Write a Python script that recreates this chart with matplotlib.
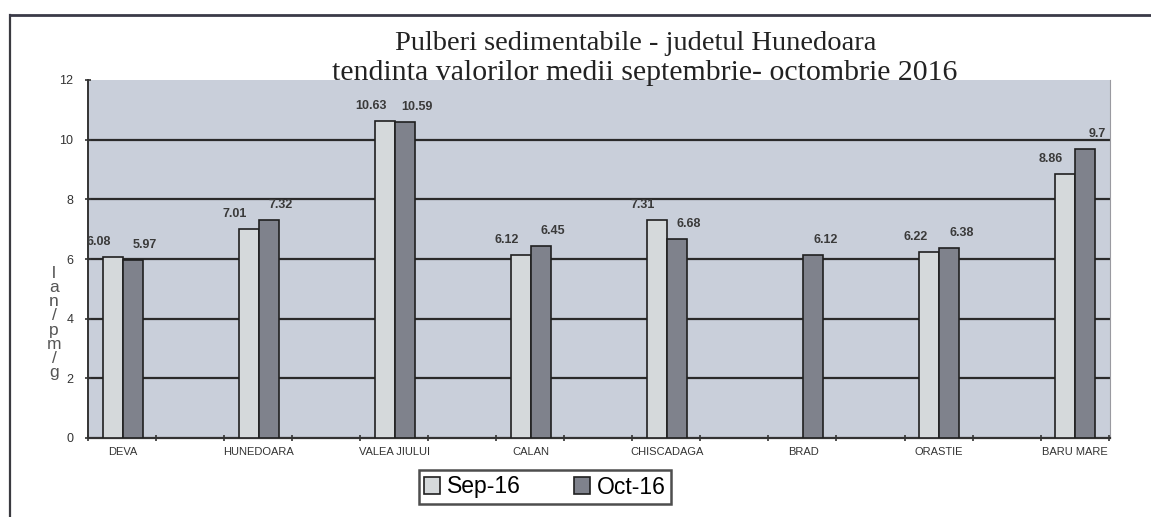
import numpy as np
import matplotlib.pyplot as plt

# values
categories = ['DEVA', 'HUNEDOARA', 'VALEA JIULUI', 'CALAN', 'CHISCADAGA', 'BRAD', 'ORASTIE', 'BARU MARE']
sep16 = [6.08, 7.01, 10.63, 6.12, 7.31, np.nan, 6.22, 8.86]
oct16 = [5.97, 7.32, 10.59, 6.45, 6.68, 6.12, 6.38, 9.7]
series_names = ['Sep-16', 'Oct-16']
ylabel_chars = ['l', 'a', 'n', '/', 'p', 'm', '/', 'g']

W, H = 1151, 517
fig = plt.figure(figsize=(W / 100, H / 100), dpi=100)
fig.patch.set_facecolor('white')

# outer frame of the chart object
fig.add_artist(plt.Line2D([10 / W, 10 / W], [0, 1 - 15 / H], color='#3a3a40', lw=1.6))
fig.add_artist(plt.Line2D([10 / W, 1], [1 - 15 / H, 1 - 15 / H], color='#3a3a48', lw=2.0))

ax = fig.add_axes([88 / W, 1 - 438 / H, (1110 - 88) / W, (438 - 80) / H])
ax.set_facecolor('#c9cfda')

x = np.arange(len(categories))
bw = 0.148
ax.bar(x - bw / 2, sep16, bw, color='#d5d9db', edgecolor='#202020', lw=1.2,
       label=series_names[0], zorder=3)
ax.bar(x + bw / 2, oct16, bw, color='#7f828c', edgecolor='#202020', lw=1.2,
       label=series_names[1], zorder=3)

for xi, v in zip(x, sep16):
    if not np.isnan(v):
        ax.annotate(f'{v:g}', (xi - bw / 2, v), xytext=(-14, 15), textcoords='offset pixels',
                    ha='center', va='center', fontsize=9, fontweight='bold', color='#3a3a3a',
                    family='Liberation Sans', zorder=4)
for xi, v in zip(x, oct16):
    ax.annotate(f'{v:g}', (xi + bw / 2, v), xytext=(12, 15), textcoords='offset pixels',
                ha='center', va='center', fontsize=9, fontweight='bold', color='#3a3a3a',
                family='Liberation Sans', zorder=4)

ax.set_ylim(0, 12)
ax.set_xlim(-0.255, 7.255)
ax.set_yticks(range(0, 13, 2))
ax.set_yticklabels([str(t) for t in range(0, 13, 2)], fontsize=9, color='#333333',
                   family='Liberation Sans')
for g in range(2, 12, 2):
    ax.axhline(g, color='#2a2a2a', lw=1.6, zorder=1)

ax.set_xticks(np.arange(-0.255, 7.3, 0.5))
ax.set_xticklabels([])
ax.tick_params(axis='x', length=4, width=1.2, color='#333333', direction='inout')
ax.tick_params(axis='y', length=5, width=1.2, color='#333333', direction='inout', pad=8)
for xi, name in zip(x, categories):
    ax.text(xi, -0.47, name, ha='center', va='center', fontsize=8, color='#333333',
            family='Liberation Sans', transform=ax.transData)

ax.spines['top'].set_visible(False)
ax.spines['right'].set_color('#9a9aa0')
ax.spines['left'].set_color('#333333')
ax.spines['left'].set_linewidth(1.4)
ax.spines['bottom'].set_color('#333333')
ax.spines['bottom'].set_linewidth(1.6)

# stacked y-axis label
fig.text(54 / W, 1 - 323 / H, '\n'.join(ylabel_chars), ha='center', va='center',
         fontsize=12.5, color='#555555', linespacing=0.92, family='Liberation Sans')

fig.text(636 / W, 1 - 44 / H, 'Pulberi sedimentabile - judetul Hunedoara', ha='center',
         va='center', fontsize=20.5, family='Liberation Serif', color='#222222')
fig.text(645 / W, 1 - 73 / H, 'tendinta valorilor medii septembrie- octombrie 2016', ha='center',
         va='center', fontsize=21.5, family='Liberation Serif', color='#222222')

leg = fig.legend(loc='center', bbox_to_anchor=(545 / W, 1 - 487 / H), ncol=2, frameon=True,
                 fancybox=False, prop={'family': 'Liberation Sans', 'size': 16.5},
                 handlelength=0.7, handleheight=0.7, handletextpad=0.3, columnspacing=2.3,
                 borderpad=0.25, borderaxespad=0)
leg.get_frame().set_edgecolor('#222222')
leg.get_frame().set_linewidth(1.8)

fig.savefig('out.png', dpi=100)
